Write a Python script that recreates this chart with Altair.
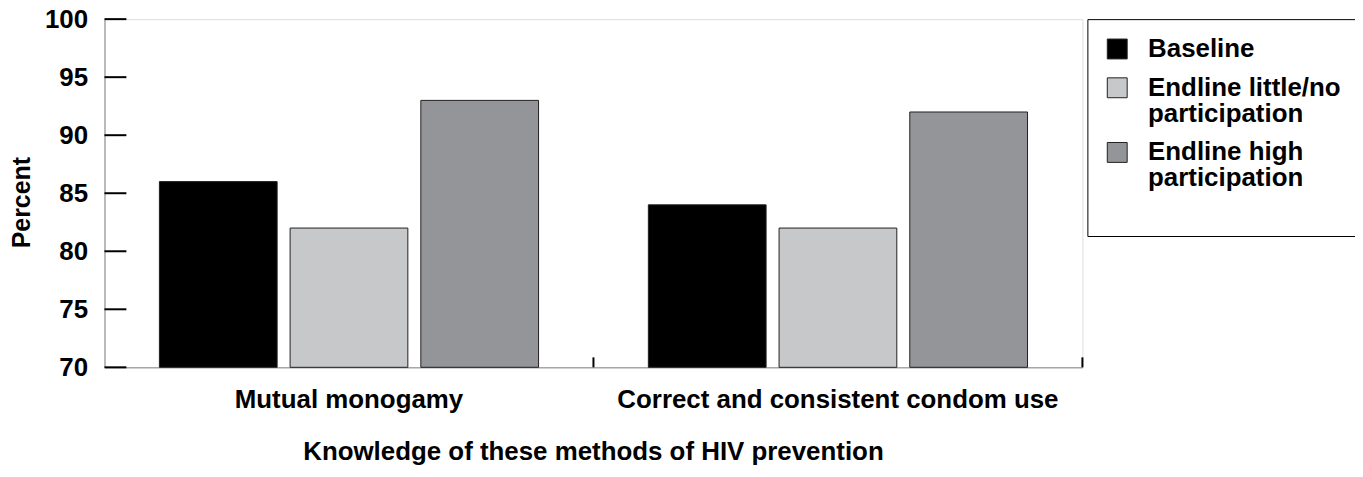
import altair as alt
import pandas as pd

categories = ["Mutual monogamy", "Correct and consistent condom use"]
series = ["Baseline", "Endline little/no participation", "Endline high participation"]
baseline = [86, 84]
endline_low = [82, 82]
endline_high = [93, 92]
y_ticks = [70, 75, 80, 85, 90, 95, 100]
colors = ["#000000", "#c7c8ca", "#939598"]

rows = []
for i, c in enumerate(categories):
    for s, vals in zip(series, [baseline, endline_low, endline_high]):
        rows.append({"category": c, "series": s, "value": vals[i]})
df = pd.DataFrame(rows)
df_yt = pd.DataFrame({"v": y_ticks})
df_xt = pd.DataFrame({"category": categories})

FONT = "Liberation Sans"
FS = 26

xscale = alt.Scale(domain=categories, paddingInner=0, paddingOuter=0)

bars = alt.Chart(df).mark_bar(stroke="#231f20", strokeWidth=1, opacity=1).encode(
    x=alt.X("category:N", sort=categories, scale=xscale,
            axis=alt.Axis(title="Knowledge of these methods of HIV prevention",
                          labelAngle=0, ticks=False, domain=True, grid=False,
                          labelPadding=19, labelFontSize=FS, labelFont=FONT,
                          labelFontWeight="bold", labelColor="#000000",
                          labelLimit=1000,
                          titleFont=FONT, titleFontSize=FS, titleFontWeight="bold",
                          titleColor="#000000", titleX=491, titleY=93,
                          titleAlign="center", titleBaseline="alphabetic")),
    xOffset=alt.XOffset("series:N", sort=series,
                        scale=alt.Scale(paddingInner=0.0992, paddingOuter=0.42)),
    y=alt.Y("value:Q", scale=alt.Scale(domain=[70, 100], nice=False, zero=False),
            axis=alt.Axis(title="Percent", values=y_ticks, ticks=False, domain=True,
                          grid=False, labelPadding=17, labelFontSize=FS, labelFont=FONT,
                          labelFontWeight="bold", labelColor="#000000",
                          titleFont=FONT, titleFontSize=25, titleFontWeight="bold",
                          titleColor="#000000", titleAngle=-90, titleX=-83, titleY=184,
                          titleAlign="center", titleBaseline="middle")),
    y2=alt.datum(70),
    color=alt.Color("series:N", sort=series,
                    scale=alt.Scale(domain=series, range=colors),
                    legend=alt.Legend(
                        title=" ", titleOrient="bottom", titleFontSize=10,
                        titlePadding=18,
                        orient="none", legendX=988, legendY=0,
                        symbolType="square", symbolSize=400,
                        symbolStrokeColor="#231f20", symbolStrokeWidth=1,
                        symbolOpacity=1,
                        labelFont=FONT, labelFontSize=FS, labelFontWeight="bold",
                        labelColor="#000000", labelOffset=18, labelLimit=1000,
                        labelExpr="datum.label == 'Baseline' ? datum.label : [replace(datum.label, ' participation', '') + '\u00a0\u00a0\u00a0\u00a0\u00a0\u00a0\u00a0\u00a0', 'participation']",
                        rowPadding=13, padding=17,
                        strokeColor="#000000", fillColor="#ffffff")),
)

yticks = alt.Chart(df_yt).mark_rule(color="#000000", strokeWidth=2).encode(
    y=alt.Y("v:Q"),
    x=alt.value(0), x2=alt.value(22),
)

xticks = alt.Chart(df_xt).mark_rule(color="#000000", strokeWidth=2).encode(
    x=alt.X("category:N", sort=categories, bandPosition=1),
    y=alt.value(340), y2=alt.value(350),
)

chart = alt.layer(bars, yticks, xticks).properties(
    width=983, height=350,
    padding={"left": 97, "top": 10, "right": 274, "bottom": 99},
    autosize=alt.AutoSizeParams(type="none"),
).configure_view(stroke=None).configure_axis(
    domainColor="#000000", domainWidth=2
).configure_legend(strokeWidth=2).configure(
    style={"guide-label": {"lineHeight": 26}}
)

chart.save("out.html", embed_options={"renderer": "svg", "actions": False})
